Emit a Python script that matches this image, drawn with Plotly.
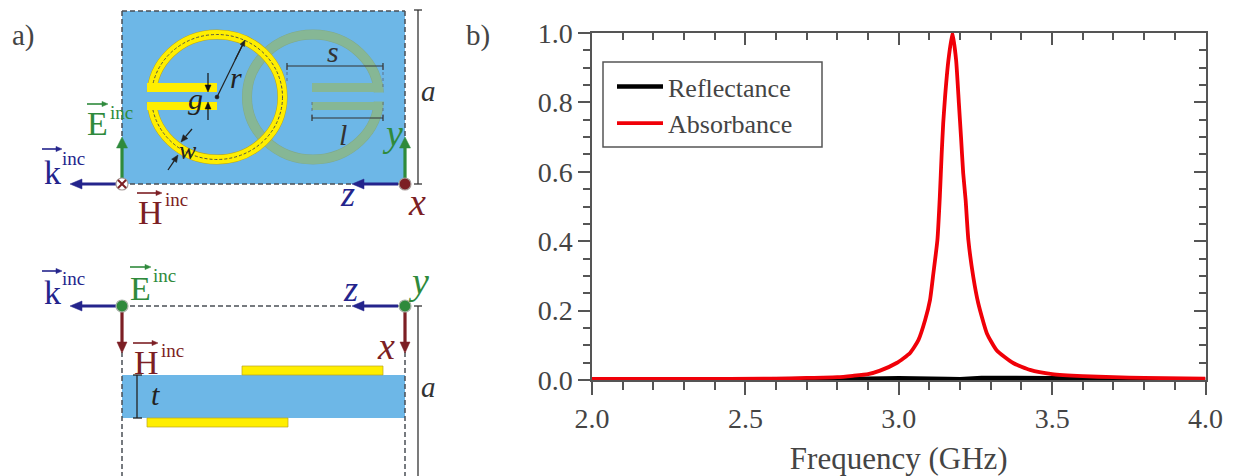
import plotly.graph_objects as go

W, H = 1234, 476

# ---------- chart data ----------
absorbance_freq = [2.0, 2.3, 2.6, 2.7, 2.8, 2.85, 2.9, 2.939, 2.993, 3.037, 3.064, 3.086, 3.102, 3.113, 3.126,
                   3.134, 3.140, 3.145, 3.151, 3.162, 3.175, 3.187, 3.196, 3.203, 3.210, 3.218, 3.227,
                   3.243, 3.259, 3.287, 3.319, 3.373, 3.428, 3.5, 3.6, 3.7, 3.8, 4.0]
absorbance = [0.003, 0.003, 0.004, 0.006, 0.008, 0.012, 0.017, 0.027, 0.049, 0.078, 0.115, 0.173, 0.231, 0.308, 0.403,
              0.530, 0.654, 0.741, 0.816, 0.922, 1.0, 0.922, 0.798, 0.700, 0.597, 0.519, 0.403,
              0.297, 0.222, 0.135, 0.086, 0.049, 0.029, 0.017, 0.011, 0.008, 0.006, 0.004]
reflectance_freq = [2.0, 2.6, 2.75, 2.85, 3.0, 3.14, 3.16, 3.2, 3.25, 3.27, 3.5, 3.6, 3.75, 3.78, 4.0]
reflectance = [0.001, 0.001, 0.002, 0.003, 0.005, 0.006, 0.003, 0.002, 0.003, 0.006, 0.005, 0.004, 0.003, 0.001, 0.001]
series_names = ["Reflectance", "Absorbance"]
axis_title = "Frequency (GHz)"

SERIF = "Liberation Serif"
INK = "#444444"
AXC = "#555555"
BLUE = "#6db7e7"
YEL = "#ffee00"
YEDGE = "#b9a520"
GRN = "#86b795"
EGRN = "#2f8a3c"
KBLU = "#24248c"
HRED = "#7c1f24"
DASH = "#4a4f55"

fig = go.Figure()

fig.add_trace(go.Scatter(x=reflectance_freq, y=reflectance, name=series_names[0], mode="lines",
                         line=dict(color="#000000", width=4.5), cliponaxis=False))
fig.add_trace(go.Scatter(x=absorbance_freq, y=absorbance, name=series_names[1], mode="lines",
                         line=dict(color="#f00008", width=3.8, shape="spline", smoothing=0.5), cliponaxis=False))
# carriers for the mirrored axes and the schematic panel
fig.add_trace(go.Scatter(x=[2, 4], y=[0, 1], xaxis="x3", yaxis="y3", mode="lines", showlegend=False,
                         line=dict(color="rgba(0,0,0,0)"), hoverinfo="skip"))
fig.add_trace(go.Scatter(x=[0, W], y=[0, H], xaxis="x2", yaxis="y2", mode="lines", showlegend=False,
                         line=dict(color="rgba(0,0,0,0)"), hoverinfo="skip"))

shapes, notes = [], []


def rect(x0, y0, x1, y1, fill, edge=None, ew=0.8):
    shapes.append(dict(type="rect", xref="x2", yref="y2", x0=x0, y0=y0, x1=x1, y1=y1, fillcolor=fill,
                       line=dict(color=edge or fill, width=ew if edge else 0)))


def seg(x0, y0, x1, y1, color="#333333", width=1.2, dash="solid"):
    shapes.append(dict(type="line", xref="x2", yref="y2", x0=x0, y0=y0, x1=x1, y1=y1,
                       line=dict(color=color, width=width, dash=dash)))


def ell(cx, cy, rx, ry, edge, width, fill="rgba(0,0,0,0)", dash="solid"):
    shapes.append(dict(type="circle", xref="x2", yref="y2", x0=cx - rx, x1=cx + rx, y0=cy - ry, y1=cy + ry,
                       fillcolor=fill, line=dict(color=edge, width=width, dash=dash)))


def arrow(x0, y0, x1, y1, color, width=3, hl=11, hw=5):
    d = ((x1 - x0) ** 2 + (y1 - y0) ** 2) ** 0.5
    ux, uy = (x1 - x0) / d, (y1 - y0) / d
    bx, by = x1 - ux * hl, y1 - uy * hl
    seg(x0, y0, bx, by, color, width)
    px, py = -uy * hw, ux * hw
    shapes.append(dict(type="path", xref="x2", yref="y2", fillcolor=color, line=dict(color=color, width=0.5),
                       path=f"M{x1},{y1} L{bx + px},{by + py} L{bx - px},{by - py} Z"))


def txt(x, y, s, size, color=INK, italic=False, anchor="center"):
    t = f"<i>{s}</i>" if italic else s
    notes.append(dict(xref="x2", yref="y2", x=x, y=y, text=t, showarrow=False, xanchor=anchor, yanchor="middle",
                      font=dict(family=SERIF, size=size, color=color)))


def vec(x, y, letter, color, ax0, ax1, ay, ix, iy):
    txt(x, y, letter, 34, color)
    arrow(ax0, ay, ax1, ay, color, 1.6, 6, 2.6)
    txt(ix, iy, "inc", 19, color)


# ---- panel a, top view ----
rect(122, 11, 405, 184, BLUE)
for a in [(122, 11, 405, 11), (405, 11, 405, 184), (122, 184, 405, 184), (122, 11, 122, 184)]:
    seg(*a, DASH, 1.5, "5px,3px")
ell(313, 97, 66, 62.5, "#7fa98c", 10)
ell(313, 97, 66, 62.5, GRN, 9)
rect(368, 92.5, 386, 101.5, BLUE)
rect(312, 83, 383, 92, GRN)
rect(312, 102, 383, 110, GRN)
ell(217, 97, 65.5, 62.5, YEDGE, 10)
ell(217, 97, 65.5, 62.5, YEL, 9)
ell(217, 97, 65.5, 62.5, "#555544", 1, dash="3px,2px")
rect(145, 92, 160, 102, BLUE)
rect(147, 83, 217, 92, YEL)
rect(147, 102, 217, 110, YEL)
ell(217, 97, 2, 2, "#222222", 0.5, "#222222")
# dimensions
seg(217, 97, 243, 44, "#222222", 1.2)
arrow(235, 60, 245, 40, "#222222", 1.2, 6, 2.5)
arrow(208, 73, 208, 92, "#111111", 1.2, 7, 3)
arrow(208, 120, 208, 102, "#111111", 1.2, 7, 3)
arrow(192, 129, 181, 142, "#222222", 1.3, 7, 3)
arrow(168, 170, 178, 155, "#222222", 1.3, 7, 3)
seg(287, 66, 383, 66)
seg(287, 63, 287, 70)
seg(383, 63, 383, 70)
seg(383, 66, 383, 87, "#556", 0.7, "dot")
seg(287, 66, 287, 84, "#556", 0.7, "dot")
seg(312, 118, 383, 118)
seg(312, 115, 312, 121)
seg(383, 115, 383, 121)
seg(312, 102, 312, 118, "#556", 0.7, "dot")
seg(383, 102, 383, 118, "#556", 0.7, "dot")
seg(418, 10, 418, 184, "#333333", 1.3)
seg(414, 10, 422, 10, "#333333", 1.3)
seg(414, 184, 422, 184, "#333333", 1.3)
arrow(122, 178, 122, 137, EGRN, 3.2, 11, 5.5)
arrow(405, 178, 405, 137, EGRN, 3.2, 11, 5.5)
arrow(116, 184, 70, 184, KBLU, 3.2, 12, 5)
arrow(398, 184, 352, 184, KBLU, 3.2, 12, 5)
ell(122, 184, 6, 6, "#a89a98", 1.2, "#ffffff")
seg(118, 180, 126, 188, HRED, 2)
seg(118, 188, 126, 180, HRED, 2)
ell(405, 184, 6, 6, "#a89a98", 1.2, HRED)
vec(97, 123, "E", EGRN, 87, 108, 104, 121, 112)
vec(52, 172, "k", KBLU, 42, 62, 149, 73, 158)
vec(150, 212, "H", HRED, 137, 162, 193, 176, 199)
txt(347, 194, "z", 36, KBLU, True)
txt(417, 202, "x", 38, HRED, True)
txt(392, 133, "y", 38, EGRN, True)
txt(428, 91, "a", 29, "#333333", True)
txt(333, 51, "s", 30, "#333333", True)
txt(343, 134, "l", 30, "#333333", True)
txt(236, 77, "r", 30, "#222222", True)
txt(195, 98, "g", 30, "#222222", True)
txt(188, 150, "w", 26, "#222222", True)

# ---- panel a, side view ----
rect(122, 375, 405, 418, BLUE)
rect(242, 366, 383, 375, YEL, YEDGE, 0.7)
rect(147, 418, 288, 427, YEL, YEDGE, 0.7)
seg(122, 306, 405, 306, DASH, 1.5, "5px,3px")
seg(122, 352, 122, 476, DASH, 1.5, "5px,3px")
seg(405, 352, 405, 476, DASH, 1.5, "5px,3px")
arrow(116, 306, 70, 306, KBLU, 3.2, 12, 5)
arrow(398, 306, 352, 306, KBLU, 3.2, 12, 5)
arrow(122, 312, 122, 353, HRED, 3.2, 11, 5)
arrow(405, 312, 405, 353, HRED, 3.2, 11, 5)
ell(122, 306, 6, 6, "#a8b4a8", 1.2, EGRN)
ell(405, 306, 6, 6, "#a8b4a8", 1.2, EGRN)
seg(137, 375, 137, 418, "#222222", 1.3)
seg(133, 375, 142, 375, "#222222", 1.3)
seg(133, 418, 142, 418, "#222222", 1.3)
seg(418, 306, 418, 476, "#333333", 1.3)
seg(414, 306, 422, 306, "#333333", 1.3)
vec(52, 292, "k", KBLU, 42, 62, 271, 73, 278)
vec(140, 288, "E", EGRN, 130, 151, 267, 164, 275)
vec(146, 362, "H", HRED, 133, 158, 343, 172, 350)
txt(350, 289, "z", 36, KBLU, True)
txt(386, 346, "x", 38, HRED, True)
txt(418, 281, "y", 38, EGRN, True)
txt(428, 387, "a", 29, "#333333", True)
txt(155, 394, "t", 30, "#222222", True)

txt(23, 35, "a)", 29)
txt(478, 35, "b)", 29)

# legend frame
rect(603, 62, 822, 147, "rgba(0,0,0,0)", AXC, 1.5)

X0, X1, Y0, Y1 = 592, 1205.5, 380, 33
xdom = [X0 / W, X1 / W]
ydom = [1 - Y0 / H, 1 - Y1 / H]

fig.update_layout(
    template="none",
    width=W, height=H, margin=dict(l=0, r=0, t=0, b=0, pad=0),
    paper_bgcolor="white", plot_bgcolor="rgba(0,0,0,0)",
    font=dict(family=SERIF, color=INK, size=27),
    shapes=shapes, annotations=notes,
    showlegend=True,
    legend=dict(x=612 / W, y=1 - 63 / H, xanchor="left", yanchor="top", bgcolor="rgba(0,0,0,0)",
                borderwidth=0, itemwidth=46, font=dict(family=SERIF, size=26, color=INK),
                tracegroupgap=0),
    xaxis=dict(domain=xdom, range=[2, 4], dtick=0.5, tick0=2, tickformat=".1f", ticks="outside", ticklen=13,
               tickcolor=AXC, tickwidth=1.5, showline=True, linecolor=AXC, linewidth=1.5, showgrid=False,
               zeroline=False, automargin=False,
               minor=dict(dtick=0.1, tick0=2, ticks="outside", ticklen=8, tickcolor=AXC,
                          tickwidth=1.5, showgrid=False),
               tickfont=dict(size=28, color=INK),
               title=dict(text=axis_title, font=dict(size=31, color=INK), standoff=18)),
    yaxis=dict(domain=ydom, range=[0, 1], dtick=0.2, tick0=0, tickformat=".1f", ticks="outside", ticklen=12,
               tickcolor=AXC, tickwidth=1.5, showline=True, linecolor=AXC, linewidth=1.5, showgrid=False,
               zeroline=False, automargin=False,
               minor=dict(dtick=0.05, tick0=0, ticks="outside", ticklen=7, tickcolor=AXC,
                          tickwidth=1.5, showgrid=False),
               tickfont=dict(size=28, color=INK)),
    xaxis3=dict(domain=xdom, range=[2, 4], overlaying="x", anchor="y3", side="top", dtick=0.5, tick0=2,
                ticks="inside", ticklen=12, tickcolor=AXC, tickwidth=1.5, showline=True, linecolor=AXC,
                linewidth=1.5, showgrid=False, zeroline=False, showticklabels=False, automargin=False,
                minor=dict(dtick=0.1, tick0=2, ticks="inside", ticklen=7, tickcolor=AXC, tickwidth=1.5,
                           showgrid=False)),
    yaxis3=dict(domain=ydom, range=[0, 1], overlaying="y", anchor="x3", side="right", dtick=0.2, tick0=0,
                ticks="inside", ticklen=12, tickcolor=AXC, tickwidth=1.5, showline=True, linecolor=AXC,
                linewidth=1.5, showgrid=False, zeroline=False, showticklabels=False, automargin=False,
                minor=dict(dtick=0.05, tick0=0, ticks="inside", ticklen=7, tickcolor=AXC, tickwidth=1.5,
                           showgrid=False)),
    xaxis2=dict(domain=[0, 1], range=[0, W], anchor="y2", visible=False, fixedrange=True, automargin=False),
    yaxis2=dict(domain=[0, 1], range=[H, 0], anchor="x2", visible=False, fixedrange=True, automargin=False),
)

fig.write_html("out.html", config={"displayModeBar": False},
               post_script="document.body.style.margin='0';document.body.style.overflow='hidden';")
